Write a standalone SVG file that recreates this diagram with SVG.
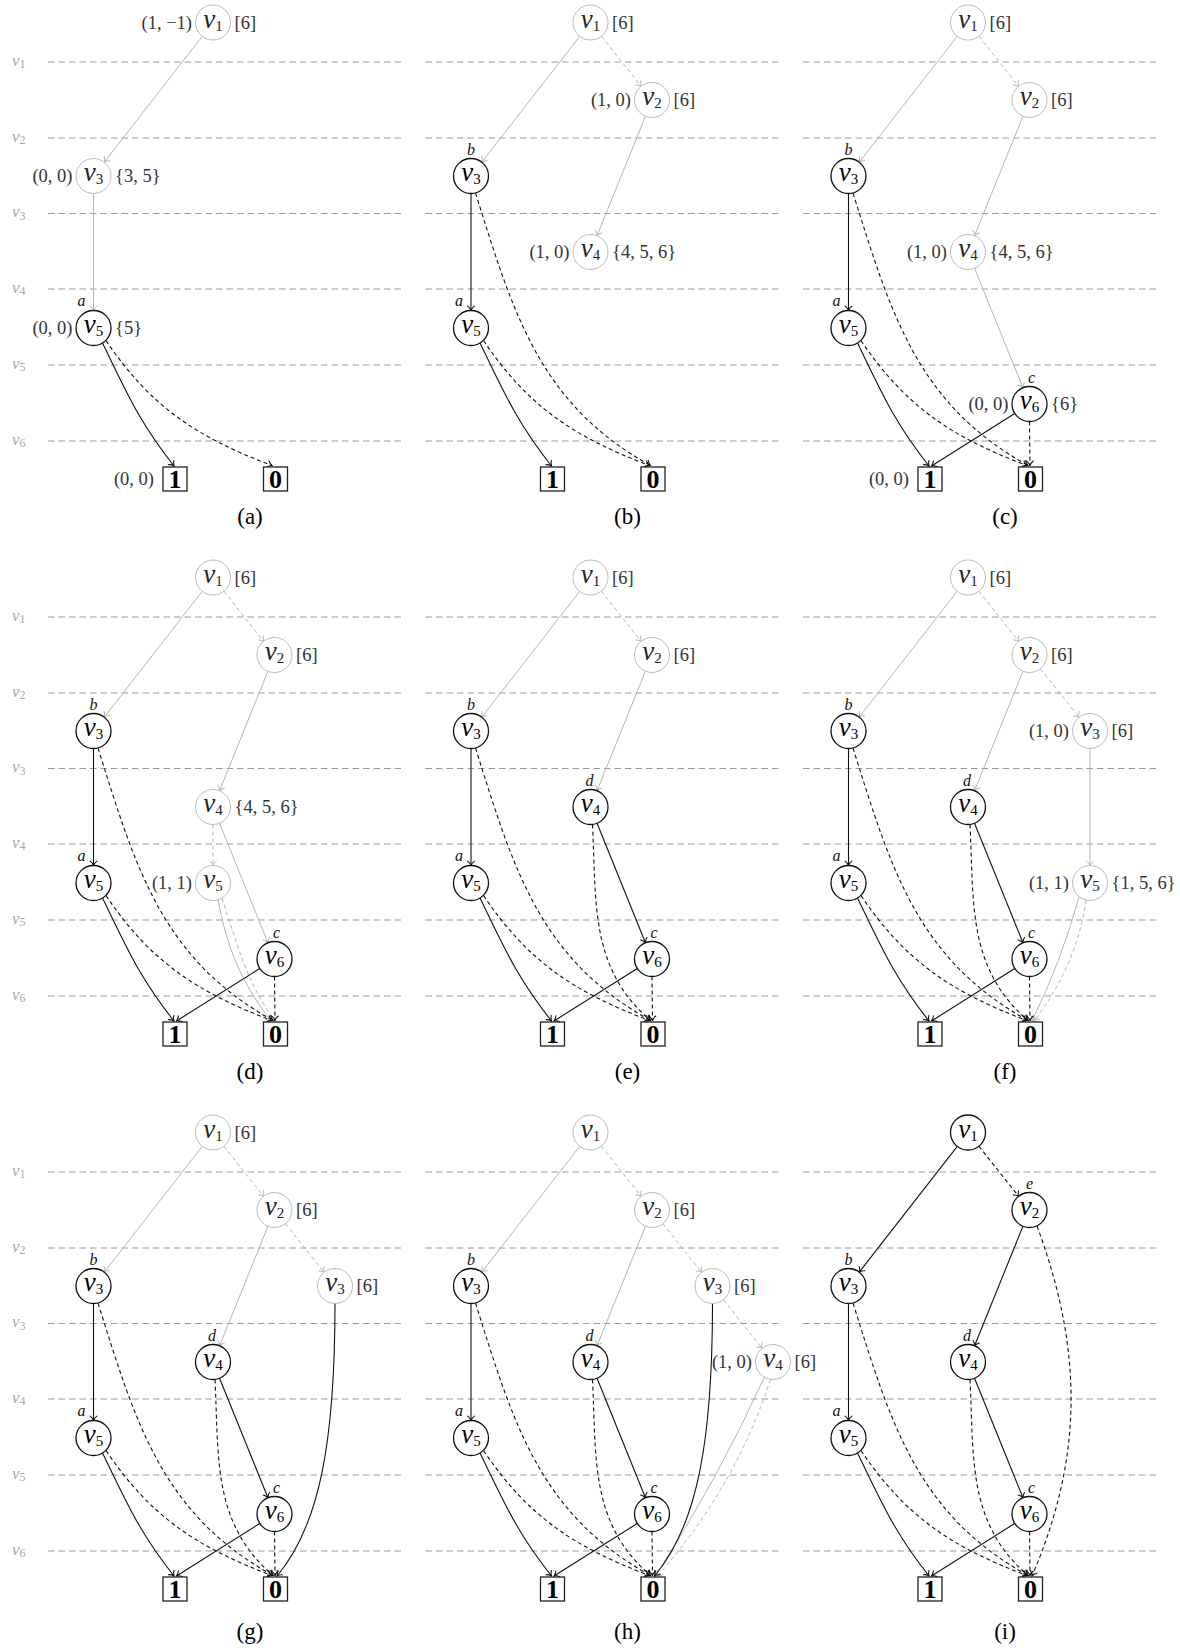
<svg xmlns="http://www.w3.org/2000/svg" width="1180" height="1648" viewBox="0 0 1180 1648">
<defs>
<style>
.row{fill:none;stroke:#9a9a9a;stroke-width:1;stroke-dasharray:6.5 4}
.rl{font-family:"Liberation Serif",serif;font-style:italic;font-size:17px;fill:#a8a8a8}
.rs{font-size:12px;font-style:normal}
.nb circle{fill:#fff;stroke:#111;stroke-width:1.3}
.ng circle{fill:#fff;stroke:#bbb;stroke-width:1}
.nt{font-family:"Liberation Serif",serif;font-style:italic;font-size:27px;text-anchor:middle}
.nb .nt{fill:#000}
.ng .nt{fill:#222}
.ns{font-size:15px;font-style:normal}
.lab{font-family:"Liberation Serif",serif;font-size:18.5px;fill:#333}
.le{text-anchor:end}
.tag{font-family:"Liberation Serif",serif;font-style:italic;font-size:16px;text-anchor:middle;fill:#111}
.box rect{fill:#fff;stroke:#222;stroke-width:1.3}
.bt{font-family:"Liberation Serif",serif;font-weight:bold;font-size:26px;text-anchor:middle;fill:#000}
.eb{fill:none;stroke:#111;stroke-width:1.1;marker-end:url(#ab)}
.eg{fill:none;stroke:#b5b5b5;stroke-width:1;marker-end:url(#ag)}
.d{stroke-dasharray:4 3}
.cap{font-family:"Liberation Serif",serif;font-size:23px;text-anchor:middle;fill:#000}
</style>
<marker id="ab" viewBox="-6 -5 7 10" refX="0" refY="0" markerWidth="7" markerHeight="10" markerUnits="userSpaceOnUse" orient="auto"><path d="M-4.4,-3.4C-3.2,-1.7 -1.3,-0.5 0,0C-1.3,0.5 -3.2,1.7 -4.4,3.4" fill="none" stroke="#111" stroke-width="1.1" stroke-dasharray="none" stroke-linecap="round"/></marker>
<marker id="ag" viewBox="-6 -5 7 10" refX="0" refY="0" markerWidth="7" markerHeight="10" markerUnits="userSpaceOnUse" orient="auto"><path d="M-4.4,-3.4C-3.2,-1.7 -1.3,-0.5 0,0C-1.3,0.5 -3.2,1.7 -4.4,3.4" fill="none" stroke="#b5b5b5" stroke-width="1" stroke-dasharray="none" stroke-linecap="round"/></marker>
</defs>
<rect width="1180" height="1648" fill="#fff"/>

<!-- ================= (a) ================= -->
<g id="panel-a">
<path class="row" d="M48,62H403M48,138H403M48,213.5H403M48,289H403M48,365H403M48,441H403"/>
<g id="a-rowlabels">
<text class="rl" x="12" y="65.5">v<tspan class="rs" dy="2.5">1</tspan></text>
<text class="rl" x="12" y="141.5">v<tspan class="rs" dy="2.5">2</tspan></text>
<text class="rl" x="12" y="217">v<tspan class="rs" dy="2.5">3</tspan></text>
<text class="rl" x="12" y="292.5">v<tspan class="rs" dy="2.5">4</tspan></text>
<text class="rl" x="12" y="368.5">v<tspan class="rs" dy="2.5">5</tspan></text>
<text class="rl" x="12" y="444.5">v<tspan class="rs" dy="2.5">6</tspan></text>
</g>
<g id="a-edges">
<path class="eg" d="M202.25,36.31L104.25,162.19"/>
<path class="eg" d="M93.5,193.5V310.5"/>
<path class="eb" d="M102.5,343C127,393 139,422 174,466"/>
<path class="eb d" d="M106,340.5C150,406 196,437 272,465.5"/>
</g>
<g id="a-v1" class="ng"><circle cx="213" cy="22.5" r="17.5"/><text class="nt" x="213" y="27.5">v<tspan class="ns" dy="3">1</tspan></text><text class="lab le" x="192" y="28.5">(1, −1)</text><text class="lab" x="234.5" y="28.5">[6]</text></g>
<g id="a-v3" class="ng"><circle cx="93.5" cy="176" r="17.5"/><text class="nt" x="93.5" y="181">v<tspan class="ns" dy="3">3</tspan></text><text class="lab le" x="72.5" y="182">(0, 0)</text><text class="lab" x="115" y="182">{3, 5}</text></g>
<g id="a-v5" class="nb"><circle cx="93.5" cy="328" r="17.5"/><text class="nt" x="93.5" y="333">v<tspan class="ns" dy="3">5</tspan></text><text class="tag" x="81.5" y="306">a</text><text class="lab le" x="72.5" y="334">(0, 0)</text><text class="lab" x="115" y="334">{5}</text></g>
<g id="a-one" class="box"><rect x="163" y="467" width="24" height="24"/><text class="bt" x="175" y="488">1</text><text class="lab le" x="154" y="485">(0, 0)</text></g>
<g id="a-zero" class="box"><rect x="263.5" y="467" width="24" height="24"/><text class="bt" x="275.5" y="488">0</text></g>
<text class="cap" x="250" y="524">(a)</text>
</g>

<!-- ================= (b) ================= -->
<g id="panel-b" transform="translate(377.5,0)">
<path class="row" d="M48,62H403M48,138H403M48,213.5H403M48,289H403M48,365H403M48,441H403"/>
<g id="b-edges">
<path class="eg" d="M202.25,36.31L104.25,162.19"/>
<path class="eg d" d="M223.88,36.21L263.62,86.29"/>
<path class="eg" d="M267.94,116.22L219.56,235.78"/>
<path class="eb" d="M93.5,193.5V310.5"/>
<path class="eb d" d="M98,193C136,314 162,404 273,465.5"/>
<path class="eb" d="M102.5,343C127,393 139,422 174,466"/>
<path class="eb d" d="M106,340.5C150,406 196,437 272,465.5"/>
</g>
<g id="b-v1" class="ng"><circle cx="213" cy="22.5" r="17.5"/><text class="nt" x="213" y="27.5">v<tspan class="ns" dy="3">1</tspan></text><text class="lab" x="234.5" y="28.5">[6]</text></g>
<g id="b-v2" class="ng"><circle cx="274.5" cy="100" r="17.5"/><text class="nt" x="274.5" y="105">v<tspan class="ns" dy="3">2</tspan></text><text class="lab le" x="253.5" y="106">(1, 0)</text><text class="lab" x="296" y="106">[6]</text></g>
<g id="b-v3" class="nb"><circle cx="93.5" cy="176" r="17.5"/><text class="nt" x="93.5" y="181">v<tspan class="ns" dy="3">3</tspan></text><text class="tag" x="93.5" y="154.5">b</text></g>
<g id="b-v4" class="ng"><circle cx="213" cy="252" r="17.5"/><text class="nt" x="213" y="257">v<tspan class="ns" dy="3">4</tspan></text><text class="lab le" x="192" y="258">(1, 0)</text><text class="lab" x="234.5" y="258">{4, 5, 6}</text></g>
<g id="b-v5" class="nb"><circle cx="93.5" cy="328" r="17.5"/><text class="nt" x="93.5" y="333">v<tspan class="ns" dy="3">5</tspan></text><text class="tag" x="81.5" y="306">a</text></g>
<g id="b-one" class="box"><rect x="163" y="467" width="24" height="24"/><text class="bt" x="175" y="488">1</text></g>
<g id="b-zero" class="box"><rect x="263.5" y="467" width="24" height="24"/><text class="bt" x="275.5" y="488">0</text></g>
<text class="cap" x="250" y="524">(b)</text>
</g>

<!-- ================= (c) ================= -->
<g id="panel-c" transform="translate(755,0)">
<path class="row" d="M48,62H403M48,138H403M48,213.5H403M48,289H403M48,365H403M48,441H403"/>
<g id="c-edges">
<path class="eg" d="M202.25,36.31L104.25,162.19"/>
<path class="eg d" d="M223.88,36.21L263.62,86.29"/>
<path class="eg" d="M267.94,116.22L219.56,235.78"/>
<path class="eg" d="M219.56,268.22L267.94,387.78"/>
<path class="eb" d="M93.5,193.5V310.5"/>
<path class="eb d" d="M98,193C136,314 162,404 273,465.5"/>
<path class="eb" d="M102.5,343C127,393 139,422 174,466"/>
<path class="eb d" d="M106,340.5C150,406 196,437 272,465.5"/>
<path class="eb" d="M259.75,413.43L176.5,466"/>
<path class="eb d" d="M274.5,421.5L275,465.5"/>
</g>
<g id="c-v1" class="ng"><circle cx="213" cy="22.5" r="17.5"/><text class="nt" x="213" y="27.5">v<tspan class="ns" dy="3">1</tspan></text><text class="lab" x="234.5" y="28.5">[6]</text></g>
<g id="c-v2" class="ng"><circle cx="274.5" cy="100" r="17.5"/><text class="nt" x="274.5" y="105">v<tspan class="ns" dy="3">2</tspan></text><text class="lab" x="296" y="106">[6]</text></g>
<g id="c-v3" class="nb"><circle cx="93.5" cy="176" r="17.5"/><text class="nt" x="93.5" y="181">v<tspan class="ns" dy="3">3</tspan></text><text class="tag" x="93.5" y="154.5">b</text></g>
<g id="c-v4" class="ng"><circle cx="213" cy="252" r="17.5"/><text class="nt" x="213" y="257">v<tspan class="ns" dy="3">4</tspan></text><text class="lab le" x="192" y="258">(1, 0)</text><text class="lab" x="234.5" y="258">{4, 5, 6}</text></g>
<g id="c-v5" class="nb"><circle cx="93.5" cy="328" r="17.5"/><text class="nt" x="93.5" y="333">v<tspan class="ns" dy="3">5</tspan></text><text class="tag" x="81.5" y="306">a</text></g>
<g id="c-v6" class="nb"><circle cx="274.5" cy="404" r="17.5"/><text class="nt" x="274.5" y="409">v<tspan class="ns" dy="3">6</tspan></text><text class="tag" x="276.5" y="382.5">c</text><text class="lab le" x="253.5" y="410">(0, 0)</text><text class="lab" x="296" y="410">{6}</text></g>
<g id="c-one" class="box"><rect x="163" y="467" width="24" height="24"/><text class="bt" x="175" y="488">1</text><text class="lab le" x="154" y="485">(0, 0)</text></g>
<g id="c-zero" class="box"><rect x="263.5" y="467" width="24" height="24"/><text class="bt" x="275.5" y="488">0</text></g>
<text class="cap" x="250" y="524">(c)</text>
</g>

<!-- ================= (d) ================= -->
<g id="panel-d" transform="translate(0,555)">
<path class="row" d="M48,62H403M48,138H403M48,213.5H403M48,289H403M48,365H403M48,441H403"/>
<g id="d-rowlabels">
<text class="rl" x="12" y="65.5">v<tspan class="rs" dy="2.5">1</tspan></text>
<text class="rl" x="12" y="141.5">v<tspan class="rs" dy="2.5">2</tspan></text>
<text class="rl" x="12" y="217">v<tspan class="rs" dy="2.5">3</tspan></text>
<text class="rl" x="12" y="292.5">v<tspan class="rs" dy="2.5">4</tspan></text>
<text class="rl" x="12" y="368.5">v<tspan class="rs" dy="2.5">5</tspan></text>
<text class="rl" x="12" y="444.5">v<tspan class="rs" dy="2.5">6</tspan></text>
</g>
<g id="d-edges">
<path class="eg" d="M202.25,36.31L104.25,162.19"/>
<path class="eg d" d="M223.88,36.21L263.62,86.29"/>
<path class="eg" d="M267.94,116.22L219.56,235.78"/>
<path class="eg d" d="M213,269.5V310.5"/>
<path class="eg" d="M219.56,268.22L267.94,387.78"/>
<path class="eg" d="M218,345C228,395 240,425 271,466"/>
<path class="eg d" d="M222,343C238,392 247,428 275,466"/>
<path class="eb" d="M93.5,193.5V310.5"/>
<path class="eb d" d="M98,193C136,314 162,404 273,465.5"/>
<path class="eb" d="M102.5,343C127,393 139,422 174,466"/>
<path class="eb d" d="M106,340.5C150,406 196,437 272,465.5"/>
<path class="eb" d="M259.75,413.43L176.5,466"/>
<path class="eb d" d="M274.5,421.5L275,465.5"/>
</g>
<g id="d-v1" class="ng"><circle cx="213" cy="22.5" r="17.5"/><text class="nt" x="213" y="27.5">v<tspan class="ns" dy="3">1</tspan></text><text class="lab" x="234.5" y="28.5">[6]</text></g>
<g id="d-v2" class="ng"><circle cx="274.5" cy="100" r="17.5"/><text class="nt" x="274.5" y="105">v<tspan class="ns" dy="3">2</tspan></text><text class="lab" x="296" y="106">[6]</text></g>
<g id="d-v3" class="nb"><circle cx="93.5" cy="176" r="17.5"/><text class="nt" x="93.5" y="181">v<tspan class="ns" dy="3">3</tspan></text><text class="tag" x="93.5" y="154.5">b</text></g>
<g id="d-v4" class="ng"><circle cx="213" cy="252" r="17.5"/><text class="nt" x="213" y="257">v<tspan class="ns" dy="3">4</tspan></text><text class="lab" x="234.5" y="258">{4, 5, 6}</text></g>
<g id="d-v5" class="nb"><circle cx="93.5" cy="328" r="17.5"/><text class="nt" x="93.5" y="333">v<tspan class="ns" dy="3">5</tspan></text><text class="tag" x="81.5" y="306">a</text></g>
<g id="d-v5b" class="ng"><circle cx="213" cy="328" r="17.5"/><text class="nt" x="213" y="333">v<tspan class="ns" dy="3">5</tspan></text><text class="lab le" x="192" y="334">(1, 1)</text></g>
<g id="d-v6" class="nb"><circle cx="274.5" cy="404" r="17.5"/><text class="nt" x="274.5" y="409">v<tspan class="ns" dy="3">6</tspan></text><text class="tag" x="276.5" y="382.5">c</text></g>
<g id="d-one" class="box"><rect x="163" y="467" width="24" height="24"/><text class="bt" x="175" y="488">1</text></g>
<g id="d-zero" class="box"><rect x="263.5" y="467" width="24" height="24"/><text class="bt" x="275.5" y="488">0</text></g>
<text class="cap" x="250" y="524">(d)</text>
</g>

<!-- ================= (e) ================= -->
<g id="panel-e" transform="translate(377.5,555)">
<path class="row" d="M48,62H403M48,138H403M48,213.5H403M48,289H403M48,365H403M48,441H403"/>
<g id="e-edges">
<path class="eg" d="M202.25,36.31L104.25,162.19"/>
<path class="eg d" d="M223.88,36.21L263.62,86.29"/>
<path class="eg" d="M267.94,116.22L219.56,235.78"/>
<path class="eb" d="M93.5,193.5V310.5"/>
<path class="eb d" d="M98,193C136,314 162,404 273,465.5"/>
<path class="eb d" d="M215,269.5C219,348 212,413 273,465.5"/>
<path class="eb" d="M219.56,268.22L267.94,387.78"/>
<path class="eb" d="M102.5,343C127,393 139,422 174,466"/>
<path class="eb d" d="M106,340.5C150,406 196,437 272,465.5"/>
<path class="eb" d="M259.75,413.43L176.5,466"/>
<path class="eb d" d="M274.5,421.5L275,465.5"/>
</g>
<g id="e-v1" class="ng"><circle cx="213" cy="22.5" r="17.5"/><text class="nt" x="213" y="27.5">v<tspan class="ns" dy="3">1</tspan></text><text class="lab" x="234.5" y="28.5">[6]</text></g>
<g id="e-v2" class="ng"><circle cx="274.5" cy="100" r="17.5"/><text class="nt" x="274.5" y="105">v<tspan class="ns" dy="3">2</tspan></text><text class="lab" x="296" y="106">[6]</text></g>
<g id="e-v3" class="nb"><circle cx="93.5" cy="176" r="17.5"/><text class="nt" x="93.5" y="181">v<tspan class="ns" dy="3">3</tspan></text><text class="tag" x="93.5" y="154.5">b</text></g>
<g id="e-v4" class="nb"><circle cx="213" cy="252" r="17.5"/><text class="nt" x="213" y="257">v<tspan class="ns" dy="3">4</tspan></text><text class="tag" x="212" y="230.5">d</text></g>
<g id="e-v5" class="nb"><circle cx="93.5" cy="328" r="17.5"/><text class="nt" x="93.5" y="333">v<tspan class="ns" dy="3">5</tspan></text><text class="tag" x="81.5" y="306">a</text></g>
<g id="e-v6" class="nb"><circle cx="274.5" cy="404" r="17.5"/><text class="nt" x="274.5" y="409">v<tspan class="ns" dy="3">6</tspan></text><text class="tag" x="276.5" y="382.5">c</text></g>
<g id="e-one" class="box"><rect x="163" y="467" width="24" height="24"/><text class="bt" x="175" y="488">1</text></g>
<g id="e-zero" class="box"><rect x="263.5" y="467" width="24" height="24"/><text class="bt" x="275.5" y="488">0</text></g>
<text class="cap" x="250" y="524">(e)</text>
</g>

<!-- ================= (f) ================= -->
<g id="panel-f" transform="translate(755,555)">
<path class="row" d="M48,62H403M48,138H403M48,213.5H403M48,289H403M48,365H403M48,441H403"/>
<g id="f-edges">
<path class="eg" d="M202.25,36.31L104.25,162.19"/>
<path class="eg d" d="M223.88,36.21L263.62,86.29"/>
<path class="eg" d="M267.94,116.22L219.56,235.78"/>
<path class="eg d" d="M285.4,113.69L324.1,162.31"/>
<path class="eg" d="M335,193.5V310.5"/>
<path class="eg" d="M324,342Q306,407 277,466"/>
<path class="eg d" d="M331,345Q322,410 279,466"/>
<path class="eb" d="M93.5,193.5V310.5"/>
<path class="eb d" d="M98,193C136,314 162,404 273,465.5"/>
<path class="eb d" d="M215,269.5C219,348 212,413 273,465.5"/>
<path class="eb" d="M219.56,268.22L267.94,387.78"/>
<path class="eb" d="M102.5,343C127,393 139,422 174,466"/>
<path class="eb d" d="M106,340.5C150,406 196,437 272,465.5"/>
<path class="eb" d="M259.75,413.43L176.5,466"/>
<path class="eb d" d="M274.5,421.5L275,465.5"/>
</g>
<g id="f-v1" class="ng"><circle cx="213" cy="22.5" r="17.5"/><text class="nt" x="213" y="27.5">v<tspan class="ns" dy="3">1</tspan></text><text class="lab" x="234.5" y="28.5">[6]</text></g>
<g id="f-v2" class="ng"><circle cx="274.5" cy="100" r="17.5"/><text class="nt" x="274.5" y="105">v<tspan class="ns" dy="3">2</tspan></text><text class="lab" x="296" y="106">[6]</text></g>
<g id="f-v3" class="nb"><circle cx="93.5" cy="176" r="17.5"/><text class="nt" x="93.5" y="181">v<tspan class="ns" dy="3">3</tspan></text><text class="tag" x="93.5" y="154.5">b</text></g>
<g id="f-v3b" class="ng"><circle cx="335" cy="176" r="17.5"/><text class="nt" x="335" y="181">v<tspan class="ns" dy="3">3</tspan></text><text class="lab le" x="314" y="182">(1, 0)</text><text class="lab" x="356.5" y="182">[6]</text></g>
<g id="f-v4" class="nb"><circle cx="213" cy="252" r="17.5"/><text class="nt" x="213" y="257">v<tspan class="ns" dy="3">4</tspan></text><text class="tag" x="212" y="230.5">d</text></g>
<g id="f-v5" class="nb"><circle cx="93.5" cy="328" r="17.5"/><text class="nt" x="93.5" y="333">v<tspan class="ns" dy="3">5</tspan></text><text class="tag" x="81.5" y="306">a</text></g>
<g id="f-v5b" class="ng"><circle cx="335" cy="328" r="17.5"/><text class="nt" x="335" y="333">v<tspan class="ns" dy="3">5</tspan></text><text class="lab le" x="314" y="334">(1, 1)</text><text class="lab" x="356.5" y="334">{1, 5, 6}</text></g>
<g id="f-v6" class="nb"><circle cx="274.5" cy="404" r="17.5"/><text class="nt" x="274.5" y="409">v<tspan class="ns" dy="3">6</tspan></text><text class="tag" x="276.5" y="382.5">c</text></g>
<g id="f-one" class="box"><rect x="163" y="467" width="24" height="24"/><text class="bt" x="175" y="488">1</text></g>
<g id="f-zero" class="box"><rect x="263.5" y="467" width="24" height="24"/><text class="bt" x="275.5" y="488">0</text></g>
<text class="cap" x="250" y="524">(f)</text>
</g>

<!-- ================= (g) ================= -->
<g id="panel-g" transform="translate(0,1110)">
<path class="row" d="M48,62H403M48,138H403M48,213.5H403M48,289H403M48,365H403M48,441H403"/>
<g id="g-rowlabels">
<text class="rl" x="12" y="65.5">v<tspan class="rs" dy="2.5">1</tspan></text>
<text class="rl" x="12" y="141.5">v<tspan class="rs" dy="2.5">2</tspan></text>
<text class="rl" x="12" y="217">v<tspan class="rs" dy="2.5">3</tspan></text>
<text class="rl" x="12" y="292.5">v<tspan class="rs" dy="2.5">4</tspan></text>
<text class="rl" x="12" y="368.5">v<tspan class="rs" dy="2.5">5</tspan></text>
<text class="rl" x="12" y="444.5">v<tspan class="rs" dy="2.5">6</tspan></text>
</g>
<g id="g-edges">
<path class="eg" d="M202.25,36.31L104.25,162.19"/>
<path class="eg d" d="M223.88,36.21L263.62,86.29"/>
<path class="eg" d="M267.94,116.22L219.56,235.78"/>
<path class="eg d" d="M285.4,113.69L324.1,162.31"/>
<path class="eb" d="M335,193.5C335,330 320,415 277,466"/>
<path class="eb" d="M93.5,193.5V310.5"/>
<path class="eb d" d="M98,193C136,314 162,404 273,465.5"/>
<path class="eb d" d="M215,269.5C219,348 212,413 273,465.5"/>
<path class="eb" d="M219.56,268.22L267.94,387.78"/>
<path class="eb" d="M102.5,343C127,393 139,422 174,466"/>
<path class="eb d" d="M106,340.5C150,406 196,437 272,465.5"/>
<path class="eb" d="M259.75,413.43L176.5,466"/>
<path class="eb d" d="M274.5,421.5L275,465.5"/>
</g>
<g id="g-v1" class="ng"><circle cx="213" cy="22.5" r="17.5"/><text class="nt" x="213" y="27.5">v<tspan class="ns" dy="3">1</tspan></text><text class="lab" x="234.5" y="28.5">[6]</text></g>
<g id="g-v2" class="ng"><circle cx="274.5" cy="100" r="17.5"/><text class="nt" x="274.5" y="105">v<tspan class="ns" dy="3">2</tspan></text><text class="lab" x="296" y="106">[6]</text></g>
<g id="g-v3" class="nb"><circle cx="93.5" cy="176" r="17.5"/><text class="nt" x="93.5" y="181">v<tspan class="ns" dy="3">3</tspan></text><text class="tag" x="93.5" y="154.5">b</text></g>
<g id="g-v3b" class="ng"><circle cx="335" cy="176" r="17.5"/><text class="nt" x="335" y="181">v<tspan class="ns" dy="3">3</tspan></text><text class="lab" x="356.5" y="182">[6]</text></g>
<g id="g-v4" class="nb"><circle cx="213" cy="252" r="17.5"/><text class="nt" x="213" y="257">v<tspan class="ns" dy="3">4</tspan></text><text class="tag" x="212" y="230.5">d</text></g>
<g id="g-v5" class="nb"><circle cx="93.5" cy="328" r="17.5"/><text class="nt" x="93.5" y="333">v<tspan class="ns" dy="3">5</tspan></text><text class="tag" x="81.5" y="306">a</text></g>
<g id="g-v6" class="nb"><circle cx="274.5" cy="404" r="17.5"/><text class="nt" x="274.5" y="409">v<tspan class="ns" dy="3">6</tspan></text><text class="tag" x="276.5" y="382.5">c</text></g>
<g id="g-one" class="box"><rect x="163" y="467" width="24" height="24"/><text class="bt" x="175" y="488">1</text></g>
<g id="g-zero" class="box"><rect x="263.5" y="467" width="24" height="24"/><text class="bt" x="275.5" y="488">0</text></g>
<text class="cap" x="250" y="529">(g)</text>
</g>

<!-- ================= (h) ================= -->
<g id="panel-h" transform="translate(377.5,1110)">
<path class="row" d="M48,62H403M48,138H403M48,213.5H403M48,289H403M48,365H403M48,441H403"/>
<g id="h-edges">
<path class="eg" d="M202.25,36.31L104.25,162.19"/>
<path class="eg d" d="M223.88,36.21L263.62,86.29"/>
<path class="eg" d="M267.94,116.22L219.56,235.78"/>
<path class="eg d" d="M285.4,113.69L324.1,162.31"/>
<path class="eg d" d="M345.9,189.69L384.6,238.31"/>
<path class="eg" d="M387,267Q340,370 278,466"/>
<path class="eg d" d="M393,269.5Q357,379 280,466"/>
<path class="eb" d="M335,193.5C335,330 320,415 277,466"/>
<path class="eb" d="M93.5,193.5V310.5"/>
<path class="eb d" d="M98,193C136,314 162,404 273,465.5"/>
<path class="eb d" d="M215,269.5C219,348 212,413 273,465.5"/>
<path class="eb" d="M219.56,268.22L267.94,387.78"/>
<path class="eb" d="M102.5,343C127,393 139,422 174,466"/>
<path class="eb d" d="M106,340.5C150,406 196,437 272,465.5"/>
<path class="eb" d="M259.75,413.43L176.5,466"/>
<path class="eb d" d="M274.5,421.5L275,465.5"/>
</g>
<g id="h-v1" class="ng"><circle cx="213" cy="22.5" r="17.5"/><text class="nt" x="213" y="27.5">v<tspan class="ns" dy="3">1</tspan></text></g>
<g id="h-v2" class="ng"><circle cx="274.5" cy="100" r="17.5"/><text class="nt" x="274.5" y="105">v<tspan class="ns" dy="3">2</tspan></text><text class="lab" x="296" y="106">[6]</text></g>
<g id="h-v3" class="nb"><circle cx="93.5" cy="176" r="17.5"/><text class="nt" x="93.5" y="181">v<tspan class="ns" dy="3">3</tspan></text><text class="tag" x="93.5" y="154.5">b</text></g>
<g id="h-v3b" class="ng"><circle cx="335" cy="176" r="17.5"/><text class="nt" x="335" y="181">v<tspan class="ns" dy="3">3</tspan></text><text class="lab" x="356.5" y="182">[6]</text></g>
<g id="h-v4" class="nb"><circle cx="213" cy="252" r="17.5"/><text class="nt" x="213" y="257">v<tspan class="ns" dy="3">4</tspan></text><text class="tag" x="212" y="230.5">d</text></g>
<g id="h-v4b" class="ng"><circle cx="395.5" cy="252" r="17.5"/><text class="nt" x="395.5" y="257">v<tspan class="ns" dy="3">4</tspan></text><text class="lab le" x="374.5" y="258">(1, 0)</text><text class="lab" x="417" y="258">[6]</text></g>
<g id="h-v5" class="nb"><circle cx="93.5" cy="328" r="17.5"/><text class="nt" x="93.5" y="333">v<tspan class="ns" dy="3">5</tspan></text><text class="tag" x="81.5" y="306">a</text></g>
<g id="h-v6" class="nb"><circle cx="274.5" cy="404" r="17.5"/><text class="nt" x="274.5" y="409">v<tspan class="ns" dy="3">6</tspan></text><text class="tag" x="276.5" y="382.5">c</text></g>
<g id="h-one" class="box"><rect x="163" y="467" width="24" height="24"/><text class="bt" x="175" y="488">1</text></g>
<g id="h-zero" class="box"><rect x="263.5" y="467" width="24" height="24"/><text class="bt" x="275.5" y="488">0</text></g>
<text class="cap" x="250" y="529">(h)</text>
</g>

<!-- ================= (i) ================= -->
<g id="panel-i" transform="translate(755,1110)">
<path class="row" d="M48,62H403M48,138H403M48,213.5H403M48,289H403M48,365H403M48,441H403"/>
<g id="i-edges">
<path class="eb" d="M202.25,36.31L104.25,162.19"/>
<path class="eb d" d="M223.88,36.21L263.62,86.29"/>
<path class="eb" d="M267.94,116.22L219.56,235.78"/>
<path class="eb d" d="M282,116C327.5,239 329,345 277,466"/>
<path class="eb" d="M93.5,193.5V310.5"/>
<path class="eb d" d="M98,193C136,314 162,404 273,465.5"/>
<path class="eb d" d="M215,269.5C219,348 212,413 273,465.5"/>
<path class="eb" d="M219.56,268.22L267.94,387.78"/>
<path class="eb" d="M102.5,343C127,393 139,422 174,466"/>
<path class="eb d" d="M106,340.5C150,406 196,437 272,465.5"/>
<path class="eb" d="M259.75,413.43L176.5,466"/>
<path class="eb d" d="M274.5,421.5L275,465.5"/>
</g>
<g id="i-v1" class="nb"><circle cx="213" cy="22.5" r="17.5"/><text class="nt" x="213" y="27.5">v<tspan class="ns" dy="3">1</tspan></text></g>
<g id="i-v2" class="nb"><circle cx="274.5" cy="100" r="17.5"/><text class="nt" x="274.5" y="105">v<tspan class="ns" dy="3">2</tspan></text><text class="tag" x="274.5" y="78.5">e</text></g>
<g id="i-v3" class="nb"><circle cx="93.5" cy="176" r="17.5"/><text class="nt" x="93.5" y="181">v<tspan class="ns" dy="3">3</tspan></text><text class="tag" x="93.5" y="154.5">b</text></g>
<g id="i-v4" class="nb"><circle cx="213" cy="252" r="17.5"/><text class="nt" x="213" y="257">v<tspan class="ns" dy="3">4</tspan></text><text class="tag" x="212" y="230.5">d</text></g>
<g id="i-v5" class="nb"><circle cx="93.5" cy="328" r="17.5"/><text class="nt" x="93.5" y="333">v<tspan class="ns" dy="3">5</tspan></text><text class="tag" x="81.5" y="306">a</text></g>
<g id="i-v6" class="nb"><circle cx="274.5" cy="404" r="17.5"/><text class="nt" x="274.5" y="409">v<tspan class="ns" dy="3">6</tspan></text><text class="tag" x="276.5" y="382.5">c</text></g>
<g id="i-one" class="box"><rect x="163" y="467" width="24" height="24"/><text class="bt" x="175" y="488">1</text></g>
<g id="i-zero" class="box"><rect x="263.5" y="467" width="24" height="24"/><text class="bt" x="275.5" y="488">0</text></g>
<text class="cap" x="250" y="529">(i)</text>
</g>
</svg>
